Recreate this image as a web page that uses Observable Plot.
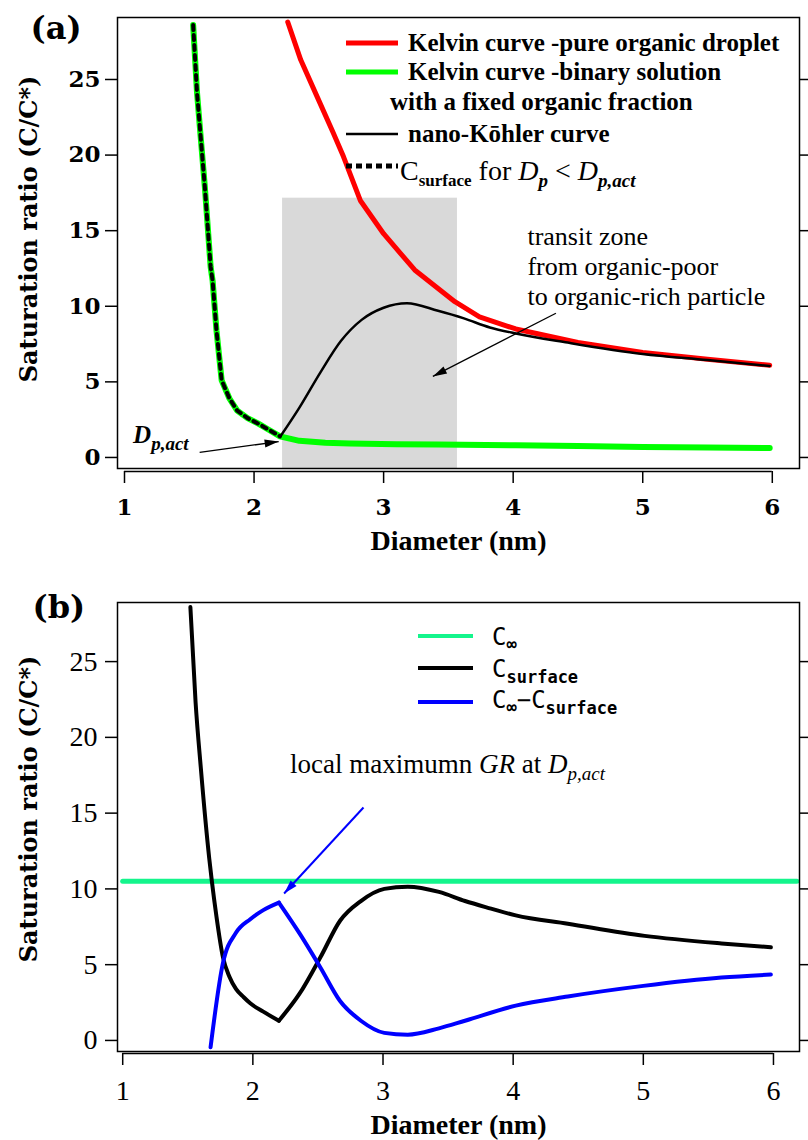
<!DOCTYPE html>
<html><head><meta charset="utf-8">
<script src="https://cdn.jsdelivr.net/npm/d3@7"></script>
<script src="https://cdn.jsdelivr.net/npm/@observablehq/plot@0.6"></script>
<style>
body{margin:0;background:#fff;}
#chart{width:808px;height:1140px;}
#chart svg{display:block;}
text{white-space:pre;}
</style></head><body><div id="chart"></div>
<script>
// ---------------- data ----------------
const xTicks = [1, 2, 3, 4, 5, 6];
const yTicks = [0, 5, 10, 15, 20, 25];
const dpAct = 2.2;

// Panel (a)
const kelvinOrgD = [2.26, 2.36, 2.49, 2.61, 2.69, 2.82, 3.0, 3.13, 3.24, 3.55, 3.74, 4.02, 4.5, 5.0, 5.5, 5.98];
const kelvinOrgS = [28.8, 26.3, 23.8, 21.5, 19.9, 17.0, 14.8, 13.5, 12.4, 10.3, 9.3, 8.5, 7.6, 6.95, 6.5, 6.1];
const kelvinBinD = [1.53, 1.56, 1.59, 1.62, 1.665, 1.68, 1.71, 1.75, 1.81, 1.87, 1.95, 2.03, 2.11, 2.2, 2.35, 2.55, 2.74, 3.1, 3.42, 4.02, 4.5, 5.0, 5.5, 5.98];
const kelvinBinS = [28.6, 24.1, 21.0, 17.9, 12.6, 11.7, 8.4, 5.1, 3.9, 3.1, 2.6, 2.25, 1.85, 1.4, 1.1, 0.98, 0.93, 0.88, 0.86, 0.8, 0.76, 0.7, 0.66, 0.62];
const kohlerD = [2.2, 2.35, 2.51, 2.67, 2.83, 3.0, 3.18, 3.42, 3.62, 3.82, 4.02, 4.42, 5.0, 5.5, 5.98];
const kohlerS = [1.35, 3.3, 5.6, 7.7, 9.1, 9.9, 10.2, 9.7, 9.2, 8.6, 8.2, 7.6, 6.85, 6.45, 6.05];
const transitZone = [{x1: 2.22, x2: 3.57, top: 17.15}];
const legendALabels = ["Kelvin curve -pure organic droplet", "Kelvin curve -binary solution", "with a fixed organic fraction", "nano-Kōhler curve"];
const transitText = ["transit zone", "from organic-poor", "to organic-rich particle"];
const transitLabel = [{D: 4.11, S: 15.5, text: transitText.join("\n")}];
const dpLabelA = [{D: 1.07, S: 0.93}];
const arrowsA = [{x1: 4.33, y1: 9.54, x2: 3.38, y2: 5.36}, {x1: 1.58, y1: 0.33, x2: 2.19, y2: 1.05}];

// Panel (b)
const cInf = 10.5;
const cInfD = [1.0, 6.18];
const cSurfD = [1.52, 1.56, 1.6, 1.665, 1.685, 1.72, 1.77, 1.82, 1.87, 1.93, 1.98, 2.08, 2.2, 2.36, 2.52, 2.67, 2.83, 3.01, 3.19, 3.43, 3.63, 3.83, 4.02, 4.42, 5.01, 5.6, 5.98];
const cSurfS = [28.6, 22.3, 18.0, 12.0, 10.5, 8.2, 5.5, 4.2, 3.4, 2.85, 2.45, 1.9, 1.3, 3.1, 5.5, 7.9, 9.2, 10.0, 10.15, 9.8, 9.2, 8.7, 8.25, 7.7, 6.9, 6.4, 6.15];
const diffD = [1.675, 1.77, 1.87, 1.98, 2.08, 2.2, 2.36, 2.52, 2.67, 2.83, 3.01, 3.19, 3.43, 3.63, 4.02, 4.42, 5.0, 5.6, 5.98];
const diffS = [-0.45, 5.1, 7.1, 8.0, 8.6, 9.1, 7.05, 4.8, 2.6, 1.3, 0.5, 0.38, 0.8, 1.3, 2.3, 2.9, 3.6, 4.15, 4.35];
const annotB = [{D: 2.29, S: 17.6}];
const arrowB = [{x1: 2.85, y1: 15.37, x2: 2.24, y2: 9.7}];

// ---------------- tables ----------------
const zip = (xs, ys) => xs.map((d, i) => ({D: d, S: ys[i]}));
const tRed = zip(kelvinOrgD, kelvinOrgS);
const tGreen = zip(kelvinBinD, kelvinBinS);
const tDotted = tGreen.filter(d => d.D <= dpAct + 1e-9);
const tKohler = zip(kohlerD, kohlerS);
const tInf = cInfD.map(d => ({D: d, S: cInf}));
const tSurf = zip(cSurfD, cSurfS);
const tDiff = zip(diffD, diffS);
// split at D_p,act so the corner stays sharp
const before = t => t.filter(d => d.D <= dpAct + 1e-9);
const after = t => t.filter(d => d.D >= dpAct - 1e-9);

const yDomA = [-0.73, 29.1];
const yDomB = [-0.73, 28.9];
const SERIF = "Liberation Serif";
const WIDE = "DejaVu Serif";
const MONO = "DejaVu Sans Mono";
const intFmt = d => String(d);
const SMOOTH = "monotone-x";

const plotA = Plot.plot({
  width: 808, height: 570,
  marginLeft: 117, marginRight: 9, marginTop: 17, marginBottom: 102,
  x: {domain: [0.946, 6.21]},
  y: {domain: yDomA},
  style: {fontFamily: SERIF, background: "white", color: "black", overflow: "visible"},
  marks: [
    Plot.rect(transitZone, {x1: "x1", x2: "x2", y1: () => yDomA[0], y2: "top", fill: "#d9d9d9"}),
    Plot.line(tGreen, {x: "D", y: "S", stroke: "#00ff00", strokeWidth: 6}),
    Plot.line(tRed, {x: "D", y: "S", stroke: "#ff0000", strokeWidth: 5}),
    Plot.line(tDotted, {x: "D", y: "S", stroke: "black", strokeWidth: 4, strokeDasharray: "5,5"}),
    Plot.line(tKohler, {x: "D", y: "S", stroke: "black", strokeWidth: 2.5, curve: SMOOTH}),
    Plot.link(arrowsA, {x1: "x1", y1: "y1", x2: "x2", y2: "y2", stroke: "black", strokeWidth: 1.3, markerEnd: "arrow"}),
    Plot.text(transitLabel, {x: "D", y: "S", text: "text", textAnchor: "start", lineAnchor: "top", lineHeight: 1.16, fontSize: 26, fontFamily: SERIF}),
    Plot.axisY({ticks: yTicks, anchor: "left", tickSize: 12, tickPadding: 5, label: null, fontSize: 23, fontWeight: "bold", fontFamily: WIDE, strokeWidth: 1.5}),
    Plot.axisY({ticks: yTicks, anchor: "right", tickSize: 9, tickFormat: () => "", label: null, strokeWidth: 1.5}),
    Plot.axisX({ticks: xTicks, tickFormat: intFmt, anchor: "bottom", tickSize: 12, tickPadding: 15, dy: 3, label: null, fontSize: 23, fontWeight: "bold", fontFamily: WIDE, strokeWidth: 1.5}),
    Plot.ruleY([yDomA[0]], {x1: xTicks[0], x2: xTicks[xTicks.length - 1], dy: 3, strokeWidth: 1.5}),
    Plot.frame({strokeWidth: 1.5}),
    Plot.text(["(a)"], {frameAnchor: "top-left", dx: -87, dy: 11, textAnchor: "start", lineAnchor: "middle", fontSize: 32, fontWeight: "bold", fontFamily: WIDE}),
    Plot.text(["Saturation ratio (C/C*)"], {frameAnchor: "left", rotate: -90, dx: -88, dy: -14, textAnchor: "middle", lineAnchor: "middle", fontSize: 24, fontWeight: "bold", fontFamily: WIDE}),
    Plot.text(["Diameter (nm)"], {frameAnchor: "bottom", dy: 73, textAnchor: "middle", lineAnchor: "middle", fontSize: 28, fontWeight: "bold", fontFamily: SERIF})
  ]
});

const plotB = Plot.plot({
  width: 808, height: 570,
  marginLeft: 117, marginRight: 9, marginTop: 32, marginBottom: 89,
  x: {domain: [0.96, 6.2]},
  y: {domain: yDomB},
  style: {fontFamily: SERIF, background: "white", color: "black", overflow: "visible"},
  marks: [
    Plot.line(tInf, {x: "D", y: "S", stroke: "#14f58c", strokeWidth: 5}),
    Plot.line(before(tSurf), {x: "D", y: "S", stroke: "black", strokeWidth: 4, curve: SMOOTH}),
    Plot.line(after(tSurf), {x: "D", y: "S", stroke: "black", strokeWidth: 4, curve: SMOOTH}),
    Plot.line(before(tDiff), {x: "D", y: "S", stroke: "#0000ff", strokeWidth: 4, curve: SMOOTH}),
    Plot.line(after(tDiff), {x: "D", y: "S", stroke: "#0000ff", strokeWidth: 4, curve: SMOOTH}),
    Plot.link(arrowB, {x1: "x1", y1: "y1", x2: "x2", y2: "y2", stroke: "#0000ff", strokeWidth: 2, markerEnd: "arrow"}),
    Plot.axisY({ticks: yTicks, anchor: "left", tickSize: 12, tickPadding: 8, label: null, fontSize: 28, fontFamily: SERIF, strokeWidth: 1.5}),
    Plot.axisY({ticks: yTicks, anchor: "right", tickSize: 9, tickFormat: () => "", label: null, strokeWidth: 1.5}),
    Plot.axisX({ticks: xTicks, tickFormat: intFmt, anchor: "bottom", tickSize: 12, tickPadding: 15, dy: 2, label: null, fontSize: 28, fontFamily: SERIF, strokeWidth: 1.5}),
    Plot.ruleY([yDomB[0]], {x1: xTicks[0], x2: xTicks[xTicks.length - 1], dy: 2, strokeWidth: 1.5}),
    Plot.frame({strokeWidth: 1.5}),
    Plot.text(["(b)"], {frameAnchor: "top-left", dx: -85, dy: 5, textAnchor: "start", lineAnchor: "middle", fontSize: 32, fontWeight: "bold", fontFamily: WIDE}),
    Plot.text(["Saturation ratio (C/C*)"], {frameAnchor: "left", rotate: -90, dx: -88, dy: -18, textAnchor: "middle", lineAnchor: "middle", fontSize: 24, fontWeight: "bold", fontFamily: WIDE}),
    Plot.text(["Diameter (nm)"], {frameAnchor: "bottom", dy: 74, textAnchor: "middle", lineAnchor: "middle", fontSize: 28, fontWeight: "bold", fontFamily: SERIF})
  ]
});

const root = document.getElementById("chart");
root.appendChild(plotA);
root.appendChild(plotB);

// filled arrowheads
[plotA, plotB].forEach(svg => {
  svg.querySelectorAll("marker").forEach(m => {
    const c = m.getAttribute("stroke") || "black";
    m.setAttribute("fill", c);
    m.setAttribute("stroke", "none");
    m.setAttribute("overflow", "visible");
    m.setAttribute("markerUnits", "userSpaceOnUse");
    m.setAttribute("markerWidth", "10");
    m.setAttribute("markerHeight", "10");
    const p = m.querySelector("path");
    if (p) p.setAttribute("d", "M-14,-4L0,0L-14,4Z");
  });
});

function scaleFn(plot, name) {
  const s = plot.scale(name);
  if (s && typeof s.apply === "function") return v => s.apply(v);
  const sc = Plot.scale({[name]: s});
  return v => sc.apply(v);
}

function richText(g, x, y, base, parts) {
  const t = g.append("text").attr("x", x).attr("y", y)
    .attr("text-anchor", "start")
    .attr("font-family", base.family).attr("font-size", base.size)
    .attr("font-weight", base.weight || "normal").attr("fill", "black");
  parts.forEach(p => {
    const ts = t.append("tspan").text(p.t);
    if (p.size) ts.attr("font-size", p.size);
    if (p.italic) ts.attr("font-style", "italic");
    if (p.weight) ts.attr("font-weight", p.weight);
    if (p.family) ts.attr("font-family", p.family);
    if (p.dy) ts.attr("dy", p.dy);
  });
  return t;
}

// ---- panel (a) legend & labels ----
{
  const g = d3.select(plotA).append("g").attr("text-anchor", "start");
  const sw = [
    {y: 43, stroke: "#ff0000", w: 5, dash: null},
    {y: 72, stroke: "#00ff00", w: 5, dash: null},
    {y: 134, stroke: "black", w: 2.5, dash: null},
    {y: 166, stroke: "black", w: 5, dash: "6,4"}
  ];
  sw.forEach(s => {
    g.append("line").attr("x1", 346).attr("x2", 398).attr("y1", s.y).attr("y2", s.y)
      .attr("stroke", s.stroke).attr("stroke-width", s.w).attr("stroke-dasharray", s.dash);
  });
  const rows = [{x: 408, y: 51}, {x: 408, y: 80}, {x: 390, y: 110}, {x: 408, y: 142}];
  legendALabels.forEach((lab, i) => {
    g.append("text").attr("x", rows[i].x).attr("y", rows[i].y).attr("text-anchor", "start")
      .attr("font-family", SERIF).attr("font-size", 25).attr("font-weight", "bold").text(lab);
  });
  richText(g, 400, 180, {family: SERIF, size: 28}, [
    {t: "C"}, {t: "surface", size: 17, weight: "bold", dy: 6},
    {t: " for ", dy: -6}, {t: "D", italic: true}, {t: "p", italic: true, weight: "bold", size: 19, dy: 7},
    {t: " < ", dy: -7}, {t: "D", italic: true}, {t: "p,act", italic: true, weight: "bold", size: 19, dy: 7}
  ]);
  const fx = scaleFn(plotA, "x"), fy = scaleFn(plotA, "y");
  dpLabelA.forEach(d => {
    richText(g, fx(d.D), fy(d.S), {family: SERIF, size: 25, weight: "bold"}, [
      {t: "D", italic: true}, {t: "p,act", italic: true, size: 19, dy: 7}
    ]);
  });
}

// ---- panel (b) legend & labels ----
{
  const g = d3.select(plotB).append("g").attr("text-anchor", "start");
  const sw = [{y: 66, stroke: "#14f58c"}, {y: 98, stroke: "black"}, {y: 132, stroke: "#0000ff"}];
  sw.forEach(s => {
    g.append("line").attr("x1", 418).attr("x2", 473).attr("y1", s.y).attr("y2", s.y)
      .attr("stroke", s.stroke).attr("stroke-width", 4);
  });
  richText(g, 492, 75, {family: MONO, size: 24}, [{t: "C"}, {t: "∞", size: 17, weight: "bold", dy: 5}]);
  richText(g, 492, 107, {family: MONO, size: 24}, [{t: "C"}, {t: "surface", size: 17, weight: "bold", dy: 6}]);
  richText(g, 492, 138, {family: MONO, size: 24}, [
    {t: "C"}, {t: "∞", size: 17, weight: "bold", dy: 5}, {t: "−", dy: -5}, {t: "C"},
    {t: "surface", size: 17, weight: "bold", dy: 6}
  ]);
  const fx = scaleFn(plotB, "x"), fy = scaleFn(plotB, "y");
  annotB.forEach(d => {
    richText(g, fx(d.D), fy(d.S), {family: SERIF, size: 27}, [
      {t: "local maximumn "}, {t: "GR", italic: true}, {t: " at "}, {t: "D", italic: true},
      {t: "p,act", italic: true, size: 19, dy: 7}
    ]);
  });
}
</script>
</body></html>
